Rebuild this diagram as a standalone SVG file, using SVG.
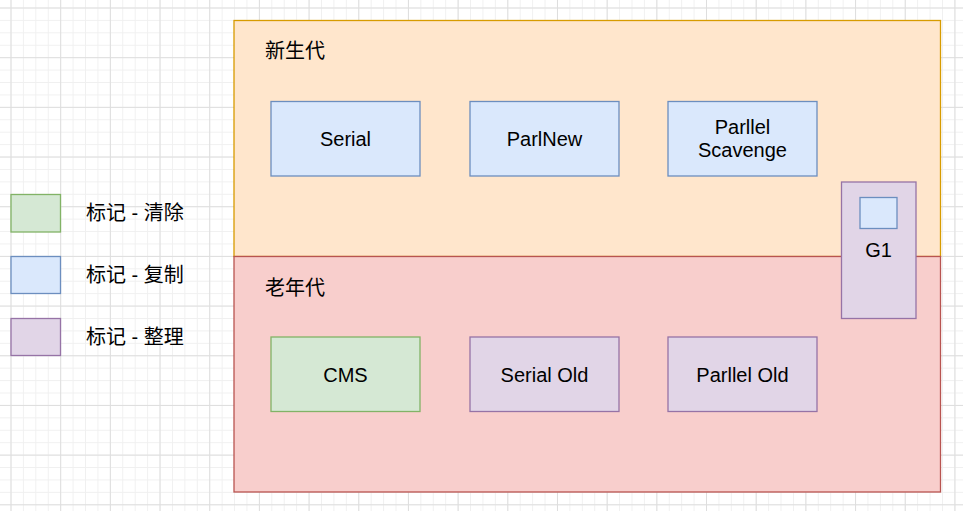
<svg xmlns="http://www.w3.org/2000/svg" width="963" height="511" viewBox="0 0 963 511">
<defs>
<pattern id="minor" x="10.5" y="7.5" width="12.42" height="12.42" patternUnits="userSpaceOnUse">
<path d="M0 0.5H12.42M0.5 0V12.42" fill="none" stroke="#f0f0f0" stroke-width="1"/>
</pattern>
<pattern id="major" x="10.5" y="7.5" width="49.68" height="49.68" patternUnits="userSpaceOnUse">
<path d="M0 0.5H49.68M0.5 0V49.68" fill="none" stroke="#dedede" stroke-width="1"/>
</pattern>
</defs>
<style>
text{font-family:"Liberation Sans","Noto Sans CJK SC",Arial,sans-serif;font-size:20px;fill:#000;}
.c{text-anchor:middle;dominant-baseline:central;}
.blue{fill:#dae8fc;stroke:#6c8ebf;stroke-width:1.3;}
.green{fill:#d5e8d4;stroke:#82b366;stroke-width:1.3;}
.purple{fill:#e1d5e7;stroke:#9673a6;stroke-width:1.3;}
.young{fill:#ffe6cc;stroke:#d79b00;stroke-width:1.3;}
.old{fill:#f8cecc;stroke:#b85450;stroke-width:1.3;}
</style>
<rect width="963" height="511" fill="#ffffff"/>
<rect width="963" height="511" fill="url(#minor)"/>
<rect width="963" height="511" fill="url(#major)"/>

<g id="young-gen">
<rect class="young" x="234" y="20.5" width="706.5" height="236"/>
<text x="265" y="51" dominant-baseline="central">新生代</text>
</g>
<g id="old-gen">
<rect class="old" x="234" y="256.5" width="706.5" height="235.5"/>
<text x="265" y="288" dominant-baseline="central">老年代</text>
</g>

<g id="serial">
<rect class="blue" x="271" y="101.5" width="149" height="74.5"/>
<text class="c" x="345.5" y="138.5">Serial</text>
</g>
<g id="parlnew">
<rect class="blue" x="470" y="101.5" width="149" height="74.5"/>
<text class="c" x="544.5" y="138.5">ParlNew</text>
</g>
<g id="parllel-scavenge">
<rect class="blue" x="668" y="101.5" width="149" height="74.5"/>
<text class="c" x="742.5" y="126.5">Parllel</text>
<text class="c" x="742.5" y="150">Scavenge</text>
</g>

<g id="cms">
<rect class="green" x="271" y="337" width="149" height="74.5"/>
<text class="c" x="345.5" y="374.5">CMS</text>
</g>
<g id="serial-old">
<rect class="purple" x="470" y="337" width="149" height="74.5"/>
<text class="c" x="544.5" y="374.5">Serial Old</text>
</g>
<g id="parllel-old">
<rect class="purple" x="668" y="337" width="149" height="74.5"/>
<text class="c" x="742.5" y="374.5">Parllel Old</text>
</g>

<g id="g1">
<rect class="purple" x="841.5" y="182" width="74.5" height="136.5"/>
<rect class="blue" x="860" y="197.5" width="37" height="31"/>
<text class="c" x="878.5" y="250">G1</text>
</g>

<g id="legend-sweep">
<rect class="green" x="11" y="194.5" width="49.5" height="37.5"/>
<text x="86" y="213" dominant-baseline="central">标记 - 清除</text>
</g>
<g id="legend-copy">
<rect class="blue" x="11" y="256.5" width="49.5" height="37"/>
<text x="86" y="275" dominant-baseline="central">标记 - 复制</text>
</g>
<g id="legend-compact">
<rect class="purple" x="11" y="318.5" width="49.5" height="37"/>
<text x="86" y="337" dominant-baseline="central">标记 - 整理</text>
</g>

<g id="connectors"></g>
</svg>
